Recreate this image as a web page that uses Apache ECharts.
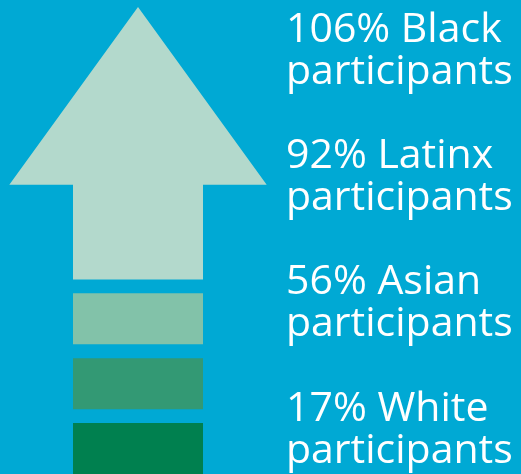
<!DOCTYPE html>
<html>
<head>
<meta charset="utf-8">
<script src="https://cdn.jsdelivr.net/npm/echarts@6/dist/echarts.min.js"></script>
<style>
html,body{margin:0;padding:0;background:#00A9D4;}
#chart{width:521px;height:474px;}
</style>
</head>
<body>
<div id="chart"></div>
<script>
// Data
const groups = ['Black', 'Latinx', 'Asian', 'White'];
const increases = [106, 92, 56, 17];
const suffix = 'participants';

const shapeColors = ['#B3D9CC', '#82C2A9', '#339974', '#00804F'];

const chart = echarts.init(document.getElementById('chart'));

// layout constants (in axis units): pitch of one slot = 1
const BAR_H = 0.785;       // bar height in slots
const SHAFT_H = 1.46;      // arrow shaft height in slots
const ARROW_H = 4.2;       // total arrow height in slots
const HEAD_OVER = 0.49;    // head overhang on each side (x units, shaft width = 1)

option = {
  backgroundColor: '#00A9D4',
  animation: false,
  grid: [
    { left: 0, width: 286, top: 51, height: 379 },
    { left: 73, width: 130, top: 0, height: 475 }
  ],
  xAxis: [
    { gridIndex: 0, type: 'value', show: false },
    { gridIndex: 1, type: 'value', show: false, min: 0, max: 1 }
  ],
  yAxis: [
    {
      gridIndex: 0, type: 'category', inverse: true, position: 'right',
      boundaryGap: false,
      data: groups,
      axisLine: { show: false }, axisTick: { show: false }, splitLine: { show: false },
      axisLabel: {
        margin: 0, align: 'left',
        color: '#ffffff', fontFamily: 'Open Sans', fontSize: 41, lineHeight: 42,
        formatter: (v, i) => increases[i] + '% ' + v + '\n' + suffix
      }
    },
    { gridIndex: 1, type: 'value', show: false, min: 0, max: 475 / 65 }
  ],
  series: [{
    type: 'custom',
    xAxisIndex: 1, yAxisIndex: 1,
    clip: false,
    data: increases.map((v, i) => [i, v]),
    renderItem: function (params, api) {
      const i = api.value(0);
      const slot = groups.length - 1 - i;
      const color = shapeColors[i];
      if (i === 0) {
        const b0 = api.coord([0, slot]);
        const b1 = api.coord([1, slot]);
        const s0 = api.coord([0, slot + SHAFT_H]);
        const s1 = api.coord([1, slot + SHAFT_H]);
        const h0 = api.coord([-HEAD_OVER, slot + SHAFT_H]);
        const h1 = api.coord([1 + HEAD_OVER, slot + SHAFT_H]);
        const tip = api.coord([0.5, slot + ARROW_H]);
        return {
          type: 'polygon',
          shape: { points: [b0, b1, s1, h1, tip, h0, s0] },
          style: { fill: color }
        };
      }
      const p0 = api.coord([0, slot + BAR_H]);
      const p1 = api.coord([1, slot]);
      return {
        type: 'rect',
        shape: { x: p0[0], y: p0[1], width: p1[0] - p0[0], height: p1[1] - p0[1] },
        style: { fill: color }
      };
    }
  }]
};
chart.setOption(option);
</script>
</body>
</html>
